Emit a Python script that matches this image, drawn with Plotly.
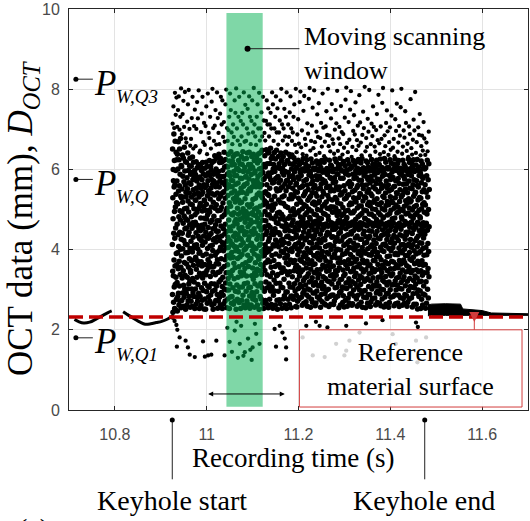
import plotly.graph_objects as go

# ---------------- data ----------------
x_range = [10.7, 11.7]
y_range = [0, 10]
x_ticks = [10.8, 11.0, 11.2, 11.4, 11.6]
x_ticklabels = ["10.8", "11", "11.2", "11.4", "11.6"]
y_ticks = [0, 2, 4, 6, 8, 10]
y_ticklabels = ["0", "2", "4", "6", "8", "10"]

# OCT trace before keyhole start (surface signal)
pre_t = [10.712, 10.722, 10.732, 10.745, 10.758, 10.772, 10.785, 10.793, None,
         10.818, 10.83, 10.843, 10.855, 10.866, 10.878, 10.89, 10.902, 10.915, 10.928]
pre_d = [2.26, 2.2, 2.17, 2.19, 2.26, 2.35, 2.43, 2.47, None,
         2.45, 2.36, 2.27, 2.19, 2.14, 2.15, 2.18, 2.21, 2.27, 2.37]

# OCT band after keyhole end
post_t = [11.482, 11.49, 11.52, 11.553, 11.558, 11.6, 11.62, 11.7]
post_top = [2.62, 2.64, 2.65, 2.64, 2.52, 2.48, 2.42, 2.40]
post_bot = [2.35, 2.36, 2.36, 2.36, 2.37, 2.37, 2.36, 2.36]

# keyhole OCT readings (x0.01 mm), one string per 10 ms block: "main band | upper scatter"
cloud_t0 = 10.925
cloud_dt = 0.01
cloud_readings = [
    "413 288 651 346 529 244 477 600 335 572 269 441 688 374 556 307 622 495 253 428 561 359 670 313 506 250 454 597 331 538 643 390 276 517 624 362 | 714 757 703 791 736 779",
    "571 318 463 247 638 392 514 283 601 437 352 669 291 546 408 482 262 624 371 559 309 651 443 272 497 588 338 474 677 401 533 356 255 610 426 529 | 706 748 782 699 731 802",
    "384 607 273 493 551 329 441 636 292 518 402 583 259 466 347 628 311 531 423 569 281 484 655 368 502 302 596 452 336 561 414 619 251 477 392 543 | 688 738 771 706 793 677",
    "532 291 454 618 364 503 262 579 412 331 552 473 302 641 393 521 272 436 597 356 494 314 567 443 283 541 377 609 462 322 628 403 256 514 348 588 | 667 719 762 798 701 659",
    "343 563 421 271 608 482 372 531 302 592 453 258 512 394 631 328 467 574 292 431 549 361 618 404 283 502 581 319 461 538 411 597 253 376 487 524 | 676 728 781 652 708 749",
    "468 302 587 381 523 264 442 619 351 553 412 282 571 493 331 604 372 461 271 542 402 313 578 433 502 362 612 291 452 531 391 561 253 427 341 508 | 658 701 768 727 797 642",
    "394 581 283 515 447 336 608 479 261 553 370 423 597 305 538 461 359 574 274 496 411 617 329 543 385 452 298 589 363 507 434 562 252 341 478 524 | 647 693 739 781 668 716",
    "521 316 463 603 277 419 555 362 498 251 584 443 337 618 389 513 295 476 561 348 430 607 266 534 403 487 309 572 375 455 591 428 282 546 356 498 | 661 708 757 638 789 691",
    "306 541 435 622 367 494 271 585 409 526 333 468 608 287 553 384 440 598 315 506 357 575 262 473 617 411 539 296 563 398 452 344 251 518 424 588 | 678 731 652 769 801 703",
    "571 358 483 265 621 427 314 536 452 634 299 503 386 592 337 462 557 273 419 601 365 512 446 309 628 393 566 472 288 541 375 432 254 497 343 583 | 671 709 748 662 792 728",
    "446 272 595 364 527 638 319 472 556 398 281 617 423 345 572 498 262 533 406 627 325 459 582 377 505 293 618 434 352 567 482 308 253 541 417 598 | 691 663 739 781 712 772",
    "331 516 621 286 452 397 582 265 544 412 643 358 487 302 606 439 562 375 272 528 463 625 317 571 404 496 342 608 445 299 553 384 255 503 421 588 | 681 718 669 762 799 703",
    "494 362 606 277 535 431 328 638 405 562 299 474 386 592 343 517 253 621 456 314 557 422 584 379 282 508 447 644 336 573 412 489 266 541 393 611 | 671 698 731 789 748 692",
    "283 557 414 621 348 486 572 305 459 381 632 264 527 433 595 366 492 327 612 408 546 271 469 584 355 519 441 296 638 397 563 475 251 531 424 601 | 663 712 681 772 741 802",
    "585 406 312 537 464 639 276 503 378 602 437 331 566 294 488 622 395 524 357 453 268 597 429 542 306 475 614 382 516 344 578 447 253 493 411 553 | 702 672 731 781 661 721",
    "426 632 335 518 274 577 455 388 612 307 543 479 363 644 286 502 417 595 342 558 446 262 626 399 484 315 562 437 605 353 527 468 255 493 402 581 | 682 741 712 792 669 761",
    "367 495 582 296 443 627 334 539 408 272 565 478 641 317 512 386 594 457 263 546 424 358 612 489 305 576 432 643 373 506 284 552 254 463 411 601 | 671 702 751 689 782 731",
    "547 306 474 612 378 445 262 587 416 513 335 632 468 293 556 397 492 354 605 277 525 438 572 326 638 407 486 285 564 452 389 622 256 501 342 591 | 663 721 772 692 803 712",
    "315 596 442 367 528 274 622 485 403 557 336 469 632 295 504 426 573 351 537 262 616 384 478 309 582 435 347 565 494 639 376 458 251 541 411 601 | 682 661 731 762 702 791",
    "465 622 347 556 283 508 414 587 363 642 316 534 449 277 603 395 486 338 562 427 648 305 529 384 473 266 592 436 357 575 512 454 253 541 401 612 | 672 702 742 682 781 722",
    "576 385 296 522 457 634 348 495 412 606 273 544 367 472 319 583 438 649 393 517 264 562 446 337 614 486 305 538 402 641 374 506 255 461 421 591 | 691 672 721 772 712 752",
    "396 535 642 314 487 428 582 276 553 369 615 456 333 509 653 297 574 402 479 356 627 263 524 438 592 385 498 307 632 445 566 342 254 511 412 601 | 682 712 741 702 792 762",
    "504 286 612 437 373 568 324 476 642 409 533 297 595 452 358 514 262 626 424 577 389 483 316 552 467 648 335 443 604 274 546 418 251 491 362 581 | 671 702 731 782 692 752",
    "338 582 465 632 296 524 407 363 567 442 614 275 493 384 548 316 602 437 476 265 573 355 517 641 423 307 554 396 488 622 343 459 254 531 412 592 | 662 692 722 772 801 712",
    "603 426 305 557 482 354 632 277 515 393 586 457 326 534 418 285 612 474 379 564 447 262 595 346 508 643 402 294 547 463 367 572 253 432 381 621 | 672 702 751 682 731 792",
    "456 294 573 386 622 337 505 434 276 592 478 363 557 415 638 316 526 398 264 582 447 345 614 483 307 566 428 632 374 496 283 537 255 461 402 601 | 662 712 681 742 782 702",
    "284 527 636 395 466 332 584 427 553 306 612 474 368 502 276 575 445 629 347 533 408 486 315 594 373 618 455 297 544 413 492 356 258 562 431 602 | 671 692 731 762 661 801",
    "437 286 565 361 513 257 606 402 324 543 466 271 581 387 491 345 623 449 303 528 417 355 576 277 497 396 612 334 459 554 375 522 313 592 428 481 463 598 | 643 687 725 664 768 794",
    "344 518 407 585 281 470 371 617 308 556 433 261 502 601 349 413 559 291 476 382 627 323 534 444 266 571 392 512 298 596 366 455 539 329 424 487 465 603 | 655 697 638 746 783 676",
    "544 312 458 613 386 270 508 354 575 429 287 492 624 333 403 561 259 467 376 597 523 302 438 550 340 607 397 282 501 586 365 446 319 529 418 480 461 595 | 661 634 715 689 776 803",
    "299 476 591 393 256 533 351 434 626 322 564 496 276 416 582 372 456 542 330 616 269 515 404 572 362 292 469 603 427 311 553 385 519 343 488 448 464 599 | 647 671 709 754 653 797",
    "435 292 560 364 511 260 603 406 318 540 471 267 584 383 486 341 621 445 297 533 414 350 574 282 500 391 614 329 456 551 377 517 309 596 425 479 467 601 | 668 636 694 737 681 765",
    "339 521 404 582 276 465 374 616 311 553 438 256 498 605 351 418 563 288 477 386 622 319 532 449 270 575 395 508 302 593 361 460 545 332 427 490 462 597 | 641 678 716 657 789 704",
    "539 308 455 618 381 265 513 356 571 424 290 488 626 328 408 566 262 464 372 592 519 298 436 555 346 602 393 278 503 587 360 443 322 535 411 483 458 600 | 633 669 707 745 686 801",
    "301 474 595 389 258 527 348 440 623 320 558 501 283 412 580 369 462 546 335 611 264 507 400 577 357 286 467 608 431 314 549 380 524 337 493 450 459 594 | 658 684 645 727 763 675",
    "432 287 567 359 506 263 600 409 326 547 464 272 579 389 494 338 626 451 305 530 420 347 569 280 503 398 619 336 455 557 379 525 306 589 430 485 466 602 | 664 639 699 748 715 796",
    "347 516 401 588 284 472 367 612 316 549 440 255 495 608 355 421 556 293 474 379 628 325 536 443 262 578 399 514 296 599 368 453 538 326 422 485 463 596 | 646 677 706 663 758 693",
    "542 307 461 614 388 268 505 349 578 431 285 489 620 335 410 559 257 470 370 595 526 304 433 547 339 609 390 274 496 589 362 452 317 528 414 477 465 598 | 637 688 654 729 774 804",
    "303 480 598 397 259 535 353 437 624 318 565 498 279 419 586 375 458 537 327 614 267 511 406 570 365 289 466 601 423 309 557 388 516 345 491 444 461 605 | 666 643 718 674 749 795",
    "439 290 563 366 514 261 607 404 320 544 469 265 588 381 492 347 622 447 299 529 416 354 577 284 496 399 611 333 460 548 370 523 315 590 429 475 456 597 | 631 656 696 735 687 767",
    "341 519 408 579 277 463 376 619 307 555 434 259 504 603 357 411 560 286 482 390 625 324 530 450 263 573 396 509 300 591 364 457 540 334 426 486 467 600 | 648 673 709 659 785 717",
    "538 313 454 616 385 269 509 352 573 426 291 490 627 330 405 562 256 465 374 594 521 297 439 552 344 604 395 281 499 584 367 446 321 532 416 478 462 599 | 667 635 686 744 703 806",
    "298 477 593 391 255 529 350 432 621 325 561 497 280 418 581 371 459 543 328 617 266 512 402 575 360 288 472 606 428 308 550 387 518 340 489 447 464 596 | 645 678 656 726 694 798",
    "433 288 566 362 509 258 602 407 322 539 467 270 582 386 488 343 625 446 302 534 412 353 572 278 501 394 613 330 458 556 373 518 311 595 424 483 460 603 | 634 663 714 683 757 706",
    "345 523 403 586 279 466 372 614 309 551 437 262 500 606 350 415 565 292 475 383 623 320 527 446 268 576 393 513 297 592 363 459 544 331 428 492 468 599 | 657 644 698 738 673 786",
    "545 309 457 612 382 266 512 351 574 427 289 487 626 332 406 563 260 469 375 596 517 301 435 553 343 605 398 277 502 583 361 449 323 533 413 479 463 594 | 665 638 707 676 766 803",
    "300 481 597 395 257 530 354 438 627 319 559 499 282 414 587 370 456 541 333 618 264 510 409 571 366 290 465 604 425 312 554 383 520 347 486 445 461 601 | 643 685 658 716 747 695",
    "436 291 561 365 512 256 605 403 319 546 468 268 585 384 490 339 624 448 300 532 418 352 575 281 498 397 616 335 457 550 371 521 312 593 427 477 465 598 | 636 668 705 649 734 797",
    "340 517 405 580 283 467 369 613 313 557 435 260 503 602 353 416 558 287 479 388 626 322 529 447 265 572 391 511 299 597 362 455 542 329 430 491 462 604 | 654 676 633 725 696 764",
    "540 311 459 615 387 267 506 355 577 423 286 494 622 331 404 565 258 466 373 591 520 303 437 549 341 603 396 280 500 588 364 451 318 531 412 481 458 600 | 644 667 708 684 755 801",
    "302 476 594 392 261 536 349 434 623 324 563 497 278 413 583 374 461 545 332 612 266 508 401 576 367 288 470 607 426 310 551 385 522 344 489 443 464 597 | 639 657 697 679 745 716",
    "437 285 564 360 515 259 601 410 321 542 465 269 587 385 491 346 626 444 298 527 414 356 571 276 504 393 617 328 456 553 376 519 308 594 425 484 467 602 | 646 664 631 707 688 775",
    "342 522 406 584 280 469 373 615 306 552 440 257 499 607 348 412 562 290 478 381 624 323 533 450 264 574 397 507 304 595 365 458 539 334 422 487 461 598 | 653 637 674 724 697 793",
    "543 314 456 611 389 264 510 350 572 428 291 491 625 329 407 560 252 468 371 598 524 299 434 556 345 606 392 283 498 585 363 447 320 530 417 482 463 595 | 641 668 626 705 686 738",
    "297 479 590 396 253 528 347 439 621 321 567 502 276 416 582 372 455 544 336 613 262 513 403 578 361 289 467 603 429 309 549 386 517 342 493 446 459 601 | 635 658 684 647 718 677",
    "438 287 562 363 511 254 604 405 320 543 466 266 584 387 489 342 623 448 301 531 415 353 574 279 500 395 614 332 457 550 | 636 667 645 694",
]

# isolated low readings below the surface level
low_t = [10.926, 10.93, 10.934, 10.936, 10.941, 10.935, 10.954, 10.959, 10.963, 10.974, 10.992,
         10.996, 11.003, 11.01, 11.021, 11.039, 11.045, 11.05, 11.055, 11.061, 11.065, 11.068,
         11.072, 11.075, 11.08, 11.083, 11.09, 11.095, 11.098, 11.1, 11.105, 11.108, 11.115,
         11.148, 11.151, 11.159, 11.165, 11.17, 11.173, 11.173, 11.209, 11.217, 11.231, 11.238,
         11.246, 11.257, 11.263, 11.282, 11.3, 11.304, 11.304, 11.311, 11.333, 11.347, 11.383,
         11.405, 11.412, 11.456, 11.456, 11.459, 11.46, 11.478]
low_d = [2.3, 2.22, 2.12, 2.0, 1.81, 1.58, 1.73, 1.56, 1.38, 1.32, 1.71,
         1.33, 1.36, 1.38, 1.73, 1.36, 2.05, 1.7, 1.45, 1.98, 2.2, 1.3,
         1.65, 2.1, 1.35, 1.44, 1.78, 1.5, 1.25, 1.56, 2.15, 1.9, 1.65,
         2.02, 1.58, 2.1, 1.93, 1.78, 1.56, 1.26, 1.81, 2.1, 1.36, 2.2,
         2.1, 1.32, 2.06, 1.65, 1.36, 2.1, 1.48, 1.73, 1.93, 2.16, 2.24,
         1.89, 1.65, 2.18, 1.73, 1.19, 2.07, 1.81]

window_t = [11.043, 11.122]
window_d = [0.08, 9.9]
ref_surface = 2.32
keyhole_start = 10.925
keyhole_end = 11.475
p_levels = [8.25, 5.75, 1.8]
p_subs = ["W,Q3", "W,Q", "W,Q1"]

# ---------------- build cloud ----------------
bx, by, sx, sy = [], [], [], []
for i, s in enumerate(cloud_readings):
    groups = s.split("|")
    for g, (gx, gy) in zip(groups, ((bx, by), (sx, sy))):
        vals = [int(v) / 100 for v in g.split()]
        n = len(vals)
        for k, v in enumerate(vals):
            gx.append(cloud_t0 + cloud_dt * (i + (k + 0.5) / n))
            gy.append(v)

# ---------------- layout helpers ----------------
W, H = 530, 521
L, R, T, B = 69, 1, 5, 111
PW, PH = W - L - R, H - T - B


def px(x):
    return (x - L) / PW


def py(y):
    return (H - B - y) / PH


def xpaper(t):
    return (t - x_range[0]) / (x_range[1] - x_range[0])


SERIF = "Liberation Serif, Times New Roman, serif"
SANS = "Liberation Sans, Arial, sans-serif"

fig = go.Figure()
fig.add_trace(go.Scatter(x=pre_t, y=pre_d, mode="lines", connectgaps=False,
                         line=dict(color="black", width=3, shape="spline"), hoverinfo="skip"))
fig.add_trace(go.Scatter(x=post_t, y=post_bot, mode="lines",
                         line=dict(color="black", width=1), hoverinfo="skip"))
fig.add_trace(go.Scatter(x=post_t, y=post_top, mode="lines", fill="tonexty", fillcolor="black",
                         line=dict(color="black", width=1), hoverinfo="skip"))
fig.add_trace(go.Scatter(x=bx, y=by, mode="markers",
                         marker=dict(color="black", size=5.5, line=dict(width=0)), hoverinfo="skip"))
fig.add_trace(go.Scatter(x=sx, y=sy, mode="markers",
                         marker=dict(color="black", size=4.3, line=dict(width=0)), hoverinfo="skip"))
fig.add_trace(go.Scatter(x=low_t, y=low_d, mode="markers",
                         marker=dict(color="black", size=4.3, line=dict(width=0)), hoverinfo="skip"))

shapes = []
shapes.append(dict(type="rect", xref="x", yref="y", x0=window_t[0], x1=window_t[1],
                   y0=window_d[0], y1=window_d[1], fillcolor="rgba(0,176,80,0.5)",
                   line=dict(width=0), layer="above"))
shapes.append(dict(type="line", xref="x", yref="y", x0=x_range[0], x1=x_range[1],
                   y0=ref_surface, y1=ref_surface,
                   line=dict(color="#c00000", width=3.5, dash="14px,6px"), layer="above"))
shapes.append(dict(type="rect", xref="x", yref="y", x0=11.202, x1=11.687, y0=0.074, y1=2.0,
                   fillcolor="rgba(255,255,255,0.82)", line=dict(color="#d23c3c", width=1),
                   layer="above"))
shapes.append(dict(type="line", xref="x", yref="y", x0=11.583, x1=11.583, y0=2.0, y1=2.25,
                   line=dict(color="#d23c3c", width=1), layer="above"))
shapes.append(dict(type="path", xref="x", yref="y", xsizemode="pixel", ysizemode="pixel",
                   xanchor=11.583, yanchor=ref_surface, path="M -5,5 L 5,5 L 0,-5 Z",
                   fillcolor="#d23c3c", line=dict(width=0), layer="above"))
shapes.append(dict(type="line", xref="x", yref="y", x0=11.089, x1=11.202, y0=9.01, y1=9.01,
                   line=dict(color="#222", width=1), layer="above"))
shapes.append(dict(type="circle", xref="x", yref="y", xsizemode="pixel", ysizemode="pixel",
                   xanchor=11.089, yanchor=9.01, x0=-3, x1=3, y0=-3, y1=3,
                   fillcolor="black", line=dict(width=0), layer="above"))
for lv in p_levels:
    shapes.append(dict(type="line", xref="x", yref="y", x0=10.715, x1=10.752, y0=lv, y1=lv,
                       line=dict(color="#222", width=1), layer="above"))
    shapes.append(dict(type="circle", xref="x", yref="y", xsizemode="pixel", ysizemode="pixel",
                       xanchor=10.715, yanchor=lv, x0=-2.5, x1=2.5, y0=-2.5, y1=2.5,
                       fillcolor="black", line=dict(width=0), layer="above"))
for kt in (keyhole_start, keyhole_end):
    xp = xpaper(kt)
    shapes.append(dict(type="line", xref="paper", yref="paper", x0=xp, x1=xp,
                       y0=py(420), y1=py(480), line=dict(color="#222", width=1)))
    shapes.append(dict(type="circle", xref="paper", yref="paper", xsizemode="pixel",
                       ysizemode="pixel", xanchor=xp, yanchor=py(420), x0=-2.5, x1=2.5,
                       y0=-2.5, y1=2.5, fillcolor="black", line=dict(width=0)))


def label(text, xpix, ypix, size, xanchor="center", align="center", angle=0):
    return dict(text=text, xref="paper", yref="paper", x=px(xpix), y=py(ypix),
                xanchor=xanchor, yanchor="middle", align=align, textangle=angle,
                showarrow=False, font=dict(family=SERIF, size=size, color="black"))


ann = []
ann.append(label("OCT data (mm), <i>D</i><sub><i>OCT</i></sub>", 23, 216, 35, angle=-90))
ann.append(label("Recording time (s)", 293, 458, 27))
ann.append(label("Keyhole start", 172, 501, 28))
ann.append(label("Keyhole end", 425, 501, 28))
ann.append(label("Moving scanning<br>window", 303, 50, 26, xanchor="left", align="left"))
ann.append(label("Reference<br>material surface", 411, 369, 26))
ann.append(label("(a)", 33, 530, 28))
ann.append(dict(text="", xref="x", yref="y", x=11.17, y=0.4, ax=11.0, ay=0.4,
                axref="x", ayref="y", showarrow=True, arrowhead=2, arrowside="end+start",
                arrowsize=1, arrowwidth=1, arrowcolor="black"))
for lv, sub in zip(p_levels, p_subs):
    ypix = 410 - lv * 40.5
    ann.append(label("<i>P</i>", 92, ypix + 4, 35, xanchor="left"))
    ann.append(label("<i>" + sub + "</i>", 114, ypix + 17, 19, xanchor="left"))

axis_common = dict(showgrid=True, gridcolor="#e3e3e3", gridwidth=1, zeroline=False,
                   showline=True, linecolor="#262626", linewidth=1, mirror="ticks",
                   ticks="inside", ticklen=4, tickcolor="#262626",
                   tickfont=dict(family=SANS, size=16, color="#4a4a4a"),
                   ticklabeloverflow="allow")

fig.update_layout(
    width=W, height=H, margin=dict(l=L, r=R, t=T, b=B),
    paper_bgcolor="white", plot_bgcolor="white", showlegend=False,
    shapes=shapes, annotations=ann,
    xaxis=dict(range=x_range, tickvals=x_ticks, ticktext=x_ticklabels,
               ticklabelstandoff=10, **axis_common),
    yaxis=dict(range=y_range, tickvals=y_ticks, ticktext=y_ticklabels,
               ticklabelstandoff=5, **axis_common),
)

fig.write_html("out.html")
